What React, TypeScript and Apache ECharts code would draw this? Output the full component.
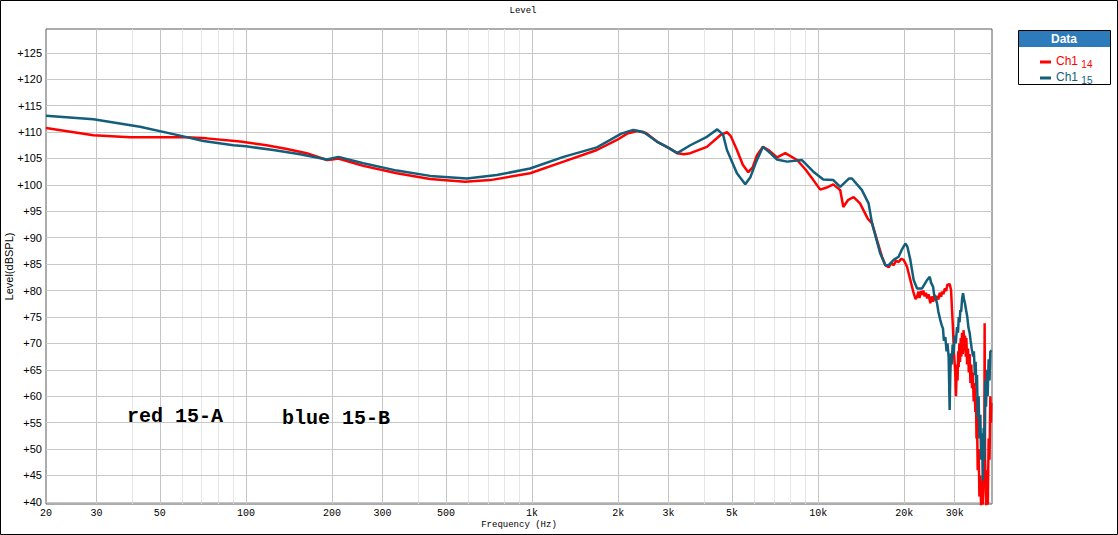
import React, { useEffect, useRef } from "react";
import * as echarts from "echarts";

// Frequency (Hz), level (dBSPL)
const red14: [number, number][] = [
  [20, 110.75], [29.3, 109.4], [39.3, 109.0], [62, 109.0], [72.9, 108.8], [95.4, 108.2], [118, 107.5],
  [139, 106.8], [163, 106.0], [191.7, 104.7], [200, 104.8], [210, 105.0], [257, 103.6], [337, 102.2],
  [440, 101.1], [583, 100.6], [714, 100.9], [984, 102.2], [1288, 104.4], [1685, 106.6], [1979, 108.5],
  [2150, 109.7], [2330, 110.2], [2500, 109.8], [2730, 108.2], [3000, 107.0], [3216, 106.0], [3400, 105.8],
  [3572, 106.0], [4084, 107.2], [4546, 109.4], [4798, 110.0], [4950, 109.2], [5200, 106.6], [5450, 103.8],
  [5696, 102.4], [5900, 103.3], [6110, 105.6], [6412, 107.2], [6700, 106.6], [7178, 105.2], [7674, 106.0],
  [8434, 104.7], [9000, 103.0], [9616, 100.9], [10168, 99.1], [10700, 99.5], [11294, 100.1], [11940, 99.0],
  [12240, 95.8], [12700, 97.1], [13300, 97.7], [14000, 96.5], [14900, 93.6], [15430, 92.7], [16060, 89.5],
  [16710, 86.4], [17170, 84.8], [17630, 84.4], [18000, 85.2], [18360, 84.8], [18700, 85.6], [19100, 85.4],
  [19500, 86.0], [19890, 85.8], [20440, 84.5], [20990, 82.0], [21560, 79.5], [21900, 78.4], [22160, 78.8],
  [22400, 79.8], [22600, 78.6], [22850, 79.9], [23070, 79.2], [23300, 80.0], [23550, 78.9], [23800, 79.6],
  [24030, 78.5], [24300, 79.3], [24652, 77.6], [24900, 78.9], [25200, 77.9], [25500, 79.2], [25800, 78.1],
  [26020, 79.0], [26300, 78.3], [26600, 79.6], [26900, 78.8], [27090, 79.8], [27400, 79.3], [27700, 80.4],
  [28000, 79.9], [28300, 81.2], [28570, 81.0], [28800, 81.3], [29130, 80.1], [29350, 76.5], [29600, 72.5],
  [29800, 68.5], [30000, 66.0], [30150, 64.0], [30300, 60.0], [30400, 62.5], [30550, 66.0], [30700, 63.0],
  [30850, 68.5], [30970, 65.5], [31150, 70.0], [31300, 66.5], [31500, 71.0], [31650, 67.5], [31820, 72.0],
  [32000, 68.0], [32230, 72.5], [32400, 68.5], [32600, 71.5], [32800, 67.5], [32950, 71.0], [33150, 66.0],
  [33400, 69.0], [33600, 64.5], [33830, 68.0], [34050, 62.5], [34300, 66.0], [34490, 61.5], [34700, 64.5],
  [34950, 59.0], [35200, 62.5], [35420, 57.0], [35600, 60.0], [35750, 52.0], [35900, 56.0], [36100, 46.0],
  [36370, 50.0], [36600, 41.0], [36880, 45.0], [37100, 39.0], [37380, 44.0], [37600, 39.5], [37870, 50.0],
  [38050, 44.0], [38170, 73.8], [38300, 48.0], [38480, 42.0], [38700, 39.0], [38920, 46.0], [39150, 39.5],
  [39420, 52.0], [39700, 48.0], [39960, 60.0], [40150, 55.0], [40280, 58.7],
];

const blue15: [number, number][] = [
  [20, 113.1], [29.3, 112.4], [42.6, 111.0], [55.7, 109.6], [71, 108.3], [90.4, 107.5], [100, 107.3],
  [124.6, 106.6], [154.6, 105.8], [191.7, 104.8], [210.4, 105.3], [257, 104.1], [337, 102.7], [440, 101.7],
  [592, 101.2], [753, 101.85], [984, 103.1], [1288, 105.3], [1685, 107.1], [1876, 108.5], [2050, 109.7],
  [2256, 110.4], [2450, 110.0], [2730, 108.2], [3000, 107.0], [3216, 106.0], [3572, 107.5], [4084, 109.1],
  [4438, 110.5], [4650, 109.5], [4798, 106.6], [5200, 102.2], [5560, 100.1], [5800, 101.5], [6040, 104.1],
  [6412, 107.2], [6800, 106.0], [7178, 104.8], [7780, 104.4], [8775, 104.7], [9616, 102.5], [10420, 101.0],
  [11294, 100.9], [11940, 99.6], [12800, 101.2], [13120, 101.2], [14220, 99.0], [15000, 96.5], [15430, 92.7],
  [16480, 87.0], [17170, 84.8], [17630, 84.8], [18360, 85.8], [19100, 86.4], [19630, 87.8], [20160, 88.9],
  [20500, 88.3], [20990, 85.8], [21560, 82.0], [22160, 80.4], [23070, 80.4], [24030, 82.0], [24540, 82.6],
  [24800, 81.5], [25210, 80.7], [25450, 79.0], [25667, 78.8], [26020, 77.6], [26300, 76.0], [26720, 74.4],
  [27000, 73.5], [27300, 72.8], [27500, 70.5], [27820, 71.2], [28100, 68.5], [28300, 70.0], [28570, 67.4],
  [28700, 62.0], [28800, 57.4], [28950, 64.0], [29130, 68.1], [29300, 66.0], [29500, 69.8], [29750, 68.0],
  [30000, 71.5], [30250, 70.0], [30570, 73.1], [30800, 72.0], [31000, 75.0], [31200, 74.0], [31390, 76.3],
  [31600, 76.0], [31850, 78.5], [32080, 79.5], [32300, 78.5], [32600, 77.5], [32950, 76.0], [33200, 75.0],
  [33500, 73.0], [33830, 72.0], [34100, 70.5], [34400, 69.0], [34770, 67.5], [35000, 68.5], [35300, 64.0],
  [35500, 66.5], [35700, 62.0], [35900, 64.0], [36100, 56.0], [36370, 60.0], [36600, 52.0], [36880, 56.5],
  [37100, 48.0], [37380, 53.0], [37600, 44.0], [37870, 54.0], [38100, 48.0], [38390, 63.0], [38600, 58.0],
  [38920, 65.0], [39100, 60.0], [39420, 67.0], [39700, 63.0], [39960, 68.4], [40280, 68.7],
];

const xLabelValues = [20, 30, 50, 100, 200, 300, 500, 1000, 2000, 3000, 5000, 10000, 20000, 30000];
const xMajorGrid = [30, 50, 100, 200, 300, 500, 1000, 2000, 3000, 5000, 10000, 20000, 30000];
const xMinorGrid = [40, 60, 70, 80, 90, 400, 600, 700, 800, 900, 4000, 6000, 7000, 8000, 9000];
const yTickValues = [40, 45, 50, 55, 60, 65, 70, 75, 80, 85, 90, 95, 100, 105, 110, 115, 120, 125];

const seriesNames = ["Ch1 14", "Ch1 15"];
const seriesColors = ["#ff0000", "#135e7a"];

export default function App() {
  const ref = useRef<HTMLDivElement>(null);
  useEffect(() => {
    if (!ref.current) return;
    const chart = echarts.init(ref.current, undefined, { renderer: "svg" });
    const gridLines: any[] = [
      ...xMinorGrid.map((v) => ({ xAxis: v, lineStyle: { color: "#e6e6e6" } })),
      ...xMajorGrid.map((v) => ({ xAxis: v, lineStyle: { color: "#c4c4c4" } })),
      ...yTickValues.map((v) => ({ yAxis: v, lineStyle: { color: "#c8c8c8" } })),
    ];
    const fmtFreq = (v: number) => {
      const f = Math.round(v);
      return f >= 1000 ? f / 1000 + "k" : String(f);
    };
    chart.setOption({
      animation: false,
      backgroundColor: "#ffffff",
      title: {
        text: "Level",
        left: 518,
        textAlign: "center",
        top: 1,
        textStyle: { fontSize: 9, fontWeight: "normal", color: "#000", fontFamily: "Liberation Mono" },
      },
      grid: {
        left: 46,
        top: 29,
        right: 126,
        bottom: 31,
        show: true,
        borderColor: "#5a5a5a",
        borderWidth: 1,
        containLabel: false,
        outerBoundsMode: "none",
      },
      legend: {
        orient: "vertical",
        left: 1035,
        top: 50,
        itemGap: 2,
        itemWidth: 11,
        itemHeight: 3,
        icon: "rect",
        selectedMode: false,
        data: seriesNames.map((n, i) => ({
          name: n,
          textStyle: {
            color: seriesColors[i],
            rich: {
              a: { color: seriesColors[i], fontSize: 12, fontFamily: "Liberation Sans", verticalAlign: "top", lineHeight: 14 },
              b: { color: seriesColors[i], fontSize: 10, fontFamily: "Liberation Sans", verticalAlign: "bottom", lineHeight: 14 },
            },
          },
        })),
        formatter: (name: string) => {
          const parts = name.split(" ");
          return `{a|${parts[0]}} {b|${parts[1]}}`;
        },
      },
      xAxis: {
        type: "log",
        logBase: 10,
        min: 20,
        max: 40500,
        name: "Frequency (Hz)",
        nameLocation: "middle",
        nameGap: 16,
        nameMoveOverlap: false,
        nameTextStyle: { fontSize: 9, color: "#000", fontFamily: "Liberation Mono" },
        axisLine: { show: false },
        axisTick: { show: false },
        splitLine: { show: false },
        minorTick: { show: false },
        minorSplitLine: { show: false },
        axisLabel: {
          customValues: xLabelValues,
          formatter: fmtFreq,
          fontSize: 10,
          color: "#000",
          fontFamily: "Liberation Mono",
          margin: 4,
          showMinLabel: true,
          showMaxLabel: true,
          hideOverlap: false,
        },
      },
      yAxis: {
        type: "value",
        min: 39.6,
        max: 129.5,
        name: "Level(dBSPL)",
        nameLocation: "middle",
        nameGap: 32,
        nameMoveOverlap: false,
        nameTextStyle: { fontSize: 11, color: "#000", fontFamily: "Liberation Sans" },
        axisLine: { show: false },
        axisTick: { show: false },
        splitLine: { show: false },
        axisLabel: {
          customValues: yTickValues,
          formatter: (v: number) => "+" + Math.round(v),
          fontSize: 11,
          color: "#000",
          fontFamily: "Liberation Sans",
          margin: 4,
        },
      },
      series: [
        {
          type: "line",
          name: "grid",
          data: [],
          z: 1,
          silent: true,
          markLine: {
            silent: true,
            symbol: ["none", "none"],
            label: { show: false },
            lineStyle: { type: "solid", width: 1 },
            emphasis: { disabled: true },
            data: gridLines,
          },
        },
        {
          type: "line",
          name: seriesNames[0],
          data: red14,
          showSymbol: false,
          symbol: "none",
          z: 10,
          color: seriesColors[0],
          lineStyle: { width: 2.5, color: seriesColors[0] },
        },
        {
          type: "line",
          name: seriesNames[1],
          data: blue15,
          showSymbol: false,
          symbol: "none",
          z: 11,
          color: seriesColors[1],
          lineStyle: { width: 2.5, color: seriesColors[1] },
        },
      ],
      graphic: [
        {
          type: "rect",
          z: 5,
          silent: true,
          shape: { x: 944, y: 35, width: 46, height: 44 },
          style: { fill: "#ffffff" },
        },
        {
          type: "rect",
          z: 20,
          silent: true,
          shape: { x: 0.5, y: 0.5, width: 1117, height: 534 },
          style: { fill: "none", stroke: "#000", lineWidth: 1 },
        },
        {
          type: "rect",
          z: 0,
          silent: true,
          shape: { x: 1018.5, y: 30.5, width: 92, height: 54 },
          style: { fill: "#ffffff", stroke: "#000", lineWidth: 1 },
        },
        {
          type: "rect",
          z: 1,
          silent: true,
          shape: { x: 1019, y: 31, width: 91, height: 16 },
          style: { fill: "#2e7bbb" },
        },
        {
          type: "text",
          z: 2,
          silent: true,
          x: 1064,
          y: 39,
          style: {
            text: "Data",
            fill: "#ffffff",
            font: "bold 12px 'Liberation Sans'",
            textAlign: "center",
            textVerticalAlign: "middle",
          },
        },
        {
          type: "text",
          z: 20,
          silent: true,
          x: 127,
          y: 416,
          style: {
            text: "red 15-A",
            fill: "#000",
            font: "bold 20px 'Liberation Mono'",
            textAlign: "left",
            textVerticalAlign: "middle",
          },
        },
        {
          type: "text",
          z: 20,
          silent: true,
          x: 282,
          y: 418,
          style: {
            text: "blue 15-B",
            fill: "#000",
            font: "bold 20px 'Liberation Mono'",
            textAlign: "left",
            textVerticalAlign: "middle",
          },
        },
      ],
    });
    return () => chart.dispose();
  }, []);
  return (
    <div
      ref={ref}
      style={{ position: "fixed", left: 0, top: 0, width: 1118, height: 535 }}
    />
  );
}
